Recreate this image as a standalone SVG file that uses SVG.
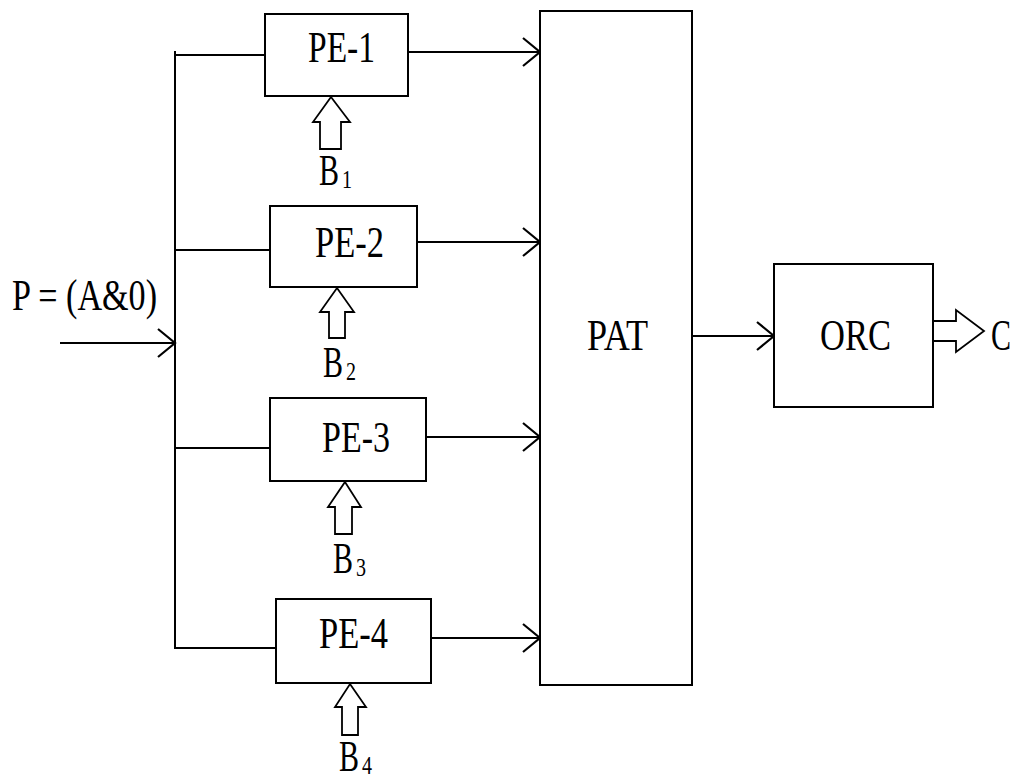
<svg xmlns="http://www.w3.org/2000/svg" width="1015" height="779" viewBox="0 0 1015 779">
<style>
  .box{fill:#fff;stroke:#000;stroke-width:2}
  .ln{fill:none;stroke:#000;stroke-width:2}
  .hol{fill:#fff;stroke:#000;stroke-width:1.8;stroke-linejoin:miter}
  .t{font-family:"Liberation Serif","Times New Roman","DejaVu Serif",serif;font-size:44px;fill:#000}
  .s{font-family:"Liberation Serif","Times New Roman","DejaVu Serif",serif;font-size:26px;fill:#000}
</style>
<defs>
  <marker id="ah" markerWidth="24" markerHeight="34" refX="20" refY="15" orient="auto" markerUnits="userSpaceOnUse">
    <path d="M3,1 L20,15 L3,29" fill="none" stroke="#000" stroke-width="2.2"/>
  </marker>
</defs>
<rect width="1015" height="779" fill="#fff"/>
<g id="connectors">
  <path class="ln" d="M175,51 V648 H276"/>
  <path class="ln" d="M175,55 H265"/>
  <path class="ln" d="M175,250 H270"/>
  <path class="ln" d="M175,448 H270"/>
  <path class="ln" d="M60,343 H175" marker-end="url(#ah)"/>
  <path class="ln" d="M408,52 H540" marker-end="url(#ah)"/>
  <path class="ln" d="M417,242 H540" marker-end="url(#ah)"/>
  <path class="ln" d="M426,437 H540" marker-end="url(#ah)"/>
  <path class="ln" d="M431,638 H540" marker-end="url(#ah)"/>
  <path class="ln" d="M692,336 H774" marker-end="url(#ah)"/>
  <polygon class="hol" points="331,97 350,122 341,122 341,149 320,149 320,122 313,122"/>
  <polygon class="hol" points="337,288 354,312 345,312 345,338 329,338 329,312 320,312"/>
  <polygon class="hol" points="345,482 361,507 352,507 352,534 335,534 335,507 328,507"/>
  <polygon class="hol" points="350,684 366,707 358,707 358,735 342,735 342,707 335,707"/>
  <polygon class="hol" points="933,321 956,321 956,310 984,331 956,352 956,341 933,341"/>
</g>
<g id="pe1">
  <rect class="box" x="265" y="14" width="143" height="82"/>
  <text class="t" x="308" y="62" textLength="67" lengthAdjust="spacingAndGlyphs">PE-1</text>
</g>
<g id="pe2">
  <rect class="box" x="270" y="206" width="147" height="81"/>
  <text class="t" x="315" y="257" textLength="69" lengthAdjust="spacingAndGlyphs">PE-2</text>
</g>
<g id="pe3">
  <rect class="box" x="270" y="398" width="156" height="83"/>
  <text class="t" x="322" y="452" textLength="68" lengthAdjust="spacingAndGlyphs">PE-3</text>
</g>
<g id="pe4">
  <rect class="box" x="276" y="599" width="155" height="84"/>
  <text class="t" x="319" y="648" textLength="69" lengthAdjust="spacingAndGlyphs">PE-4</text>
</g>
<g id="pat">
  <rect class="box" x="540" y="11" width="152" height="674"/>
  <text class="t" x="587" y="350" textLength="61" lengthAdjust="spacingAndGlyphs">PAT</text>
</g>
<g id="orc">
  <rect class="box" x="774" y="264" width="159" height="143"/>
  <text class="t" x="820" y="350" textLength="71" lengthAdjust="spacingAndGlyphs">ORC</text>
</g>
<g id="labels">
  <text class="t" x="12" y="310" textLength="145" lengthAdjust="spacingAndGlyphs">P = (A&amp;0)</text>
  <text class="t" x="991" y="350" textLength="20" lengthAdjust="spacingAndGlyphs">C</text>
  <text class="t" x="319" y="185" textLength="20" lengthAdjust="spacingAndGlyphs">B</text>
  <text class="s" x="342" y="188" textLength="10" lengthAdjust="spacingAndGlyphs">1</text>
  <text class="t" x="323" y="377" textLength="20" lengthAdjust="spacingAndGlyphs">B</text>
  <text class="s" x="346" y="380" textLength="10" lengthAdjust="spacingAndGlyphs">2</text>
  <text class="t" x="333" y="573" textLength="20" lengthAdjust="spacingAndGlyphs">B</text>
  <text class="s" x="356" y="576" textLength="10" lengthAdjust="spacingAndGlyphs">3</text>
  <text class="t" x="339" y="771" textLength="20" lengthAdjust="spacingAndGlyphs">B</text>
  <text class="s" x="362" y="774" textLength="10" lengthAdjust="spacingAndGlyphs">4</text>
</g>
</svg>
